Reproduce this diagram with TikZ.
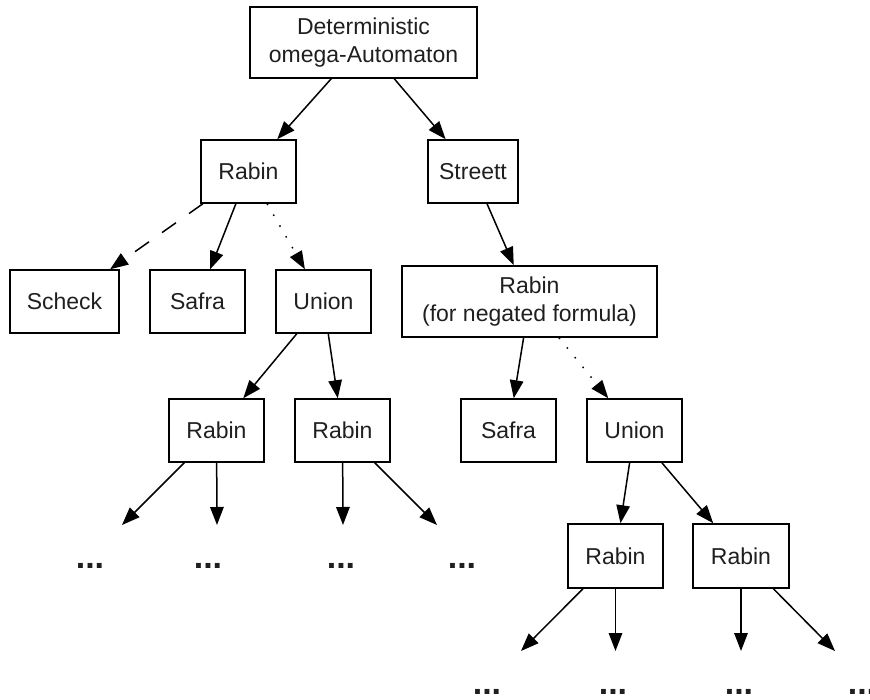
\documentclass[tikz,border=0pt]{standalone}
\usepackage{fontspec}
\setmainfont{Liberation Sans}
\usetikzlibrary{arrows.meta}
\begin{document}
\begin{tikzpicture}[x=1pt,y=-1pt,
 box/.style={draw, line width=1.5pt, inner sep=0pt, minimum width=95pt, minimum height=63pt, align=center, font=\fontsize{23}{28}\selectfont, text=black!88},
 widebox/.style={box, minimum height=71pt},
 arr/.style={line width=1.5pt, -{Triangle[length=18pt,width=13.5pt]}},
 dashedge/.style={arr, dash pattern=on 17pt off 16pt},
 dotedge/.style={arr, dash pattern=on 1.5pt off 11pt},
 more/.style={font=\fontsize{34}{34}\selectfont\bfseries, anchor=base, inner sep=0pt, text=black!88}]
\useasboundingbox (0,0) rectangle (870,700);
\begin{scope}
\clip (0,0) rectangle (870,700);
% nodes
\node[widebox, minimum width=227pt] (top) at (363.5,42.5) {Deterministic\\omega-Automaton};
\node[box] (r1) at (248.5,171.5) {Rabin};
\node[box, minimum width=90pt] (st) at (473,171.5) {Streett};
\node[box, minimum width=109pt] (sch) at (64.5,301.5) {Scheck};
\node[box] (sa1) at (197.5,301.5) {Safra};
\node[box] (un1) at (323.5,301.5) {Union};
\node[widebox, minimum width=255pt] (rn) at (529.5,301.5) {Rabin\\(for negated formula)};
\node[box] (r3a) at (216.5,430.5) {Rabin};
\node[box] (r3b) at (342.5,430.5) {Rabin};
\node[box] (sa2) at (508.5,430.5) {Safra};
\node[box] (un2) at (634.5,430.5) {Union};
\node[box, minimum height=64pt] (r4a) at (615.5,556) {Rabin};
\node[box, minimum height=64pt, minimum width=96pt] (r4b) at (741,556) {Rabin};
% leaf ends
\coordinate (e1) at (122,525);
\coordinate (e2) at (217,525);
\coordinate (e3) at (343,525);
\coordinate (e4) at (437,525);
\coordinate (e5) at (521,651);
\coordinate (e6) at (615.5,651);
\coordinate (e7) at (741,651);
\coordinate (e8) at (835,651);
% dots
\node[more] (d1) at (90,568) {...};
\node[more] (d2) at (208,568) {...};
\node[more] (d3) at (341,568) {...};
\node[more] (d4) at (462,568) {...};
\node[more] (d5) at (487,694) {...};
\node[more] (d6) at (613,694) {...};
\node[more] (d7) at (739,694) {...};
\node[more] (d8) at (862,694) {...};
% edges
\draw[arr] (top) -- (r1);
\draw[arr] (top) -- (st);
\draw[dashedge] (r1) -- (sch);
\draw[arr] (r1) -- (sa1);
\draw[dotedge] (r1) -- (un1);
\draw[arr] (st) -- (rn);
\draw[arr] (un1) -- (r3a);
\draw[arr] (un1) -- (r3b);
\draw[arr] (rn) -- (sa2);
\draw[dotedge] (rn) -- (un2);
\draw[arr] (un2) -- (r4a);
\draw[arr] (un2) -- (r4b);
\draw[arr] (r3a) -- (e1);
\draw[arr] (r3a) -- (e2);
\draw[arr] (r3b) -- (e3);
\draw[arr] (r3b) -- (e4);
\draw[arr] (r4a) -- (e5);
\draw[arr] (r4a) -- (e6);
\draw[arr] (r4b) -- (e7);
\draw[arr] (r4b) -- (e8);
\end{scope}
\end{tikzpicture}
\end{document}
